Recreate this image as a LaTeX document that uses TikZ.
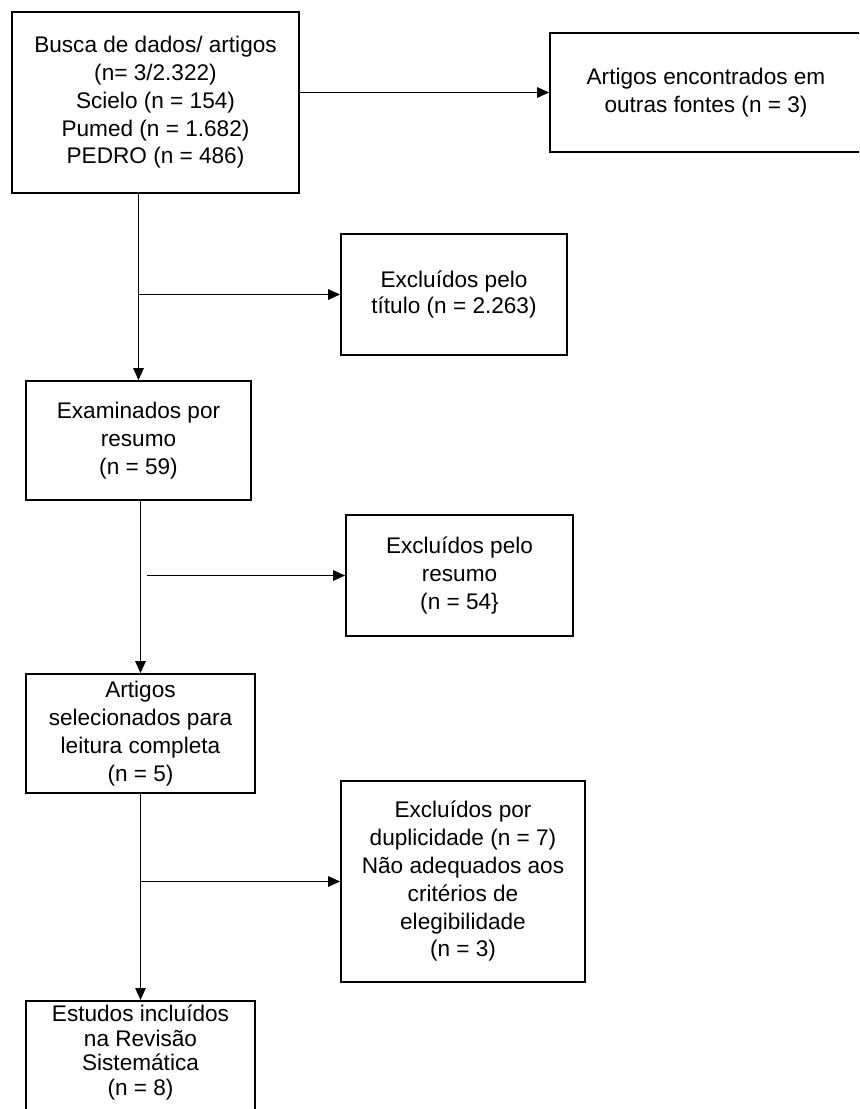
\documentclass[tikz,border=0pt]{standalone}
\usepackage{fontspec}
\setmainfont{Liberation Sans}
\usetikzlibrary{arrows.meta}

\begin{document}
\begin{tikzpicture}[
    x=0.5pt, y=-0.5pt,
    box/.style={rectangle,draw,line width=0.85pt,align=center,inner sep=0pt,font=\fontsize{11.3}{13.9}\selectfont},
    arr/.style={->,line width=0.75pt},
    >={Triangle[length=6pt,width=5.2pt]}
  ]
  \useasboundingbox (0,0) rectangle (859,1109);
  \clip (0,0) rectangle (859,1109);
  \node[box,minimum width=143.5pt,minimum height=90.5pt] (busca) at (155.5,102.5) {Busca de dados/ artigos\\(n= 3/2.322)\\Scielo (n = 154)\\Pumed (n = 1.682)\\PEDRO (n = 486)};
  \node[box,minimum width=156pt,minimum height=59.5pt] (outras) at (706,92.5) {Artigos encontrados em\\outras fontes (n = 3)};
  \node[box,minimum width=113pt,minimum height=60.5pt,font=\fontsize{11.3}{12.6}\selectfont] (titulo) at (454,294.5) {Excluídos pelo\\título (n = 2.263)};
  \node[box,minimum width=112.5pt,minimum height=59.5pt] (examinados) at (138.5,440.5) {Examinados por\\resumo\\(n = 59)};
  \node[box,minimum width=113.5pt,minimum height=60.5pt] (resumo) at (459.5,575.5) {Excluídos pelo\\resumo\\(n = 54\}};
  \node[box,minimum width=114.5pt,minimum height=59.5pt] (selecionados) at (140.5,733.5) {Artigos\\selecionados para\\leitura completa\\(n = 5)};
  \node[box,minimum width=122pt,minimum height=100.5pt] (duplicidade) at (463,881.5) {Excluídos por\\duplicidade (n = 7)\\Não adequados aos\\critérios de\\elegibilidade\\(n = 3)};
  \node[box,anchor=north,minimum width=114.5pt,inner ysep=2pt,text depth=20pt,font=\fontsize{11.3}{12.3}\selectfont] (incluidos) at (140.5,1000) {Estudos incluídos\\na Revisão\\Sistemática\\(n = 8)};

  \draw[arr] (busca.east |- outras.west) -- (outras.west);
  \draw[arr] (busca.south -| examinados.north) -- (examinados.north);
  \draw[arr] (examinados.north |- titulo.west) -- (titulo.west);
  \draw[arr] (examinados.south -| selecionados.north) -- (selecionados.north);
  \draw[arr] ([xshift=3pt]selecionados.north |- resumo.west) -- (resumo.west);
  \draw[arr] (selecionados.south) -- (incluidos.north);
  \draw[arr] (selecionados.south |- duplicidade.west) -- (duplicidade.west);
\end{tikzpicture}
\end{document}
